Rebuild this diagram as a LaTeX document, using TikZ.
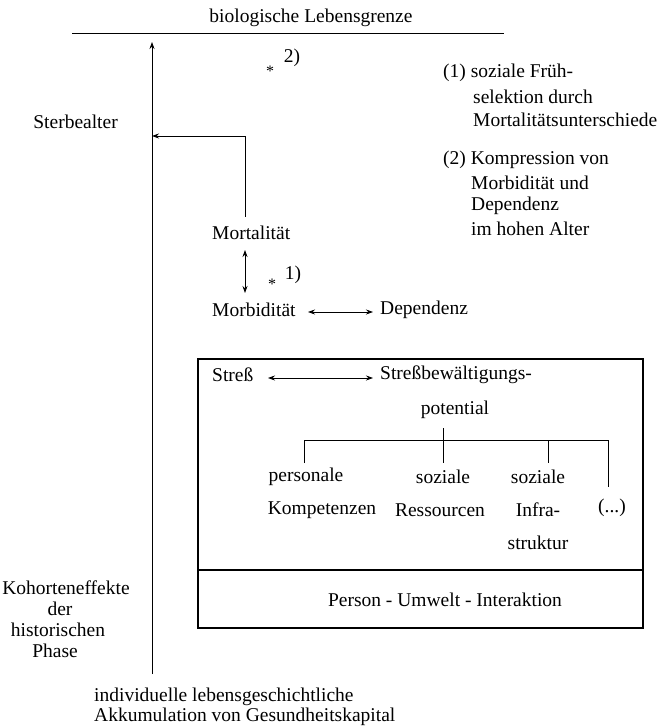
\documentclass[tikz,border=0pt]{standalone}
\usepackage{fontspec}
\setmainfont{Liberation Serif}
\usetikzlibrary{arrows.meta}
\begin{document}
\begin{tikzpicture}[x=1pt,y=-1pt,
  txt/.style={inner sep=0pt, font=\fontsize{19.5}{22}\selectfont},
  ctxt/.style={txt, align=center},
  ln/.style={line width=0.8pt},
  boxln/.style={line width=1.1pt},
  tip/.style={-{Stealth[length=7pt,width=5pt]}},
  dtip/.style={{Stealth[length=7pt,width=5pt]}-{Stealth[length=7pt,width=5pt]}}]
\useasboundingbox (0,0) rectangle (664,727);

% top
\node[txt] (title) at (311,18) {biologische Lebensgrenze};
\coordinate (tl) at (72,33);
\coordinate (tr) at (504,33);
\draw[ln] (tl) -- (tr);

% main axis
\coordinate (abot) at (152,674);
\coordinate (atop) at (152,42);
\draw[ln,tip] (abot) -- (atop);

\node[txt] (ast2) at (270,71) {\fontsize{16}{16}\selectfont *};
\node[txt] (two) at (292,58) {2)};

\node[txt,anchor=east] (sterbe) at (118,122) {Sterbealter};

% mortality
\node[txt,anchor=west] (mort) at (212,233) {Mortalität};
\coordinate (e1) at (245,217);
\coordinate (e2) at (152,136);
\draw[ln,tip] (e1) |- (e2);

\coordinate (v1) at (245,250);
\coordinate (v2) at (245,293);
\draw[ln,dtip] (v1) -- (v2);
\node[txt] (ast1) at (272,284) {\fontsize{16}{16}\selectfont *};
\node[txt] (one) at (293,275) {1)};

\node[txt,anchor=west] (morb) at (212,310) {Morbidität};
\node[txt,anchor=west] (dep) at (380,310) {Dependenz};
\coordinate (h1) at (308,312);
\coordinate (h2) at (373,312);
\draw[ln,dtip] (h1) -- (h2);

% notes
\node[txt,anchor=west] (n1a) at (443,73) {(1) soziale Früh-};
\node[txt,anchor=west] (n1b) at (473,97) {selektion durch};
\node[txt,anchor=west] (n1c) at (473,120) {Mortalitätsunterschiede};
\node[txt,anchor=west] (n2a) at (443,160) {(2) Kompression von};
\node[txt,anchor=west] (n2b) at (471,183) {Morbidität und};
\node[txt,anchor=west] (n2c) at (471,206) {Dependenz};
\node[txt,anchor=west] (n2d) at (471,229) {im hohen Alter};

% box
\coordinate (b1) at (198,359);
\coordinate (b2) at (643,628);
\coordinate (d1) at (198,570);
\coordinate (d2) at (643,570);
\draw[boxln] (b1) rectangle (b2);
\draw[boxln] (d1) -- (d2);

\node[txt,anchor=west] (stress) at (212,375) {Streß};
\node[txt,anchor=west] (sbw) at (380,375) {Streßbewältigungs-};
\node[txt] (pot) at (455,410) {potential};
\coordinate (s1) at (268,378);
\coordinate (s2) at (373,378);
\draw[ln,dtip] (s1) -- (s2);

% tree
\coordinate (t0) at (443,428);
\coordinate (tm) at (443,463);
\coordinate (ta) at (304,463);
\coordinate (tc) at (548,463);
\coordinate (td) at (608,487);
\coordinate (ty) at (0,440);
\draw[ln] (ta) -- (ta |- ty) -- (td |- ty) -- (td);
\draw[ln] (t0) -- (tm);
\draw[ln] (tc |- ty) -- (tc);

\node[txt] (pers) at (306,477) {personale};
\node[txt] (komp) at (322,510) {Kompetenzen};
\node[txt] (soz1) at (443,477) {soziale};
\node[txt] (ress) at (440,510) {Ressourcen};
\node[txt] (soz2) at (538,477) {soziale};
\node[txt] (infra) at (538,510) {Infra-};
\node[txt] (strukt) at (538,543) {struktur};
\node[txt,anchor=west] (dots) at (598,508) {(...)};

\node[txt] (pui) at (445,600) {Person - Umwelt - Interaktion};

% left
\node[txt] (koh1) at (66,588) {Kohorteneffekte};
\node[txt] (koh2) at (60,609) {der};
\node[txt] (koh3) at (58,630) {historischen};
\node[txt] (koh4) at (55,651) {Phase};

% bottom
\node[txt,anchor=west] (indiv1) at (94,697) {individuelle lebensgeschichtliche};
\node[txt,anchor=west] (indiv2) at (94,717) {Akkumulation von Gesundheitskapital};
\end{tikzpicture}
\end{document}
